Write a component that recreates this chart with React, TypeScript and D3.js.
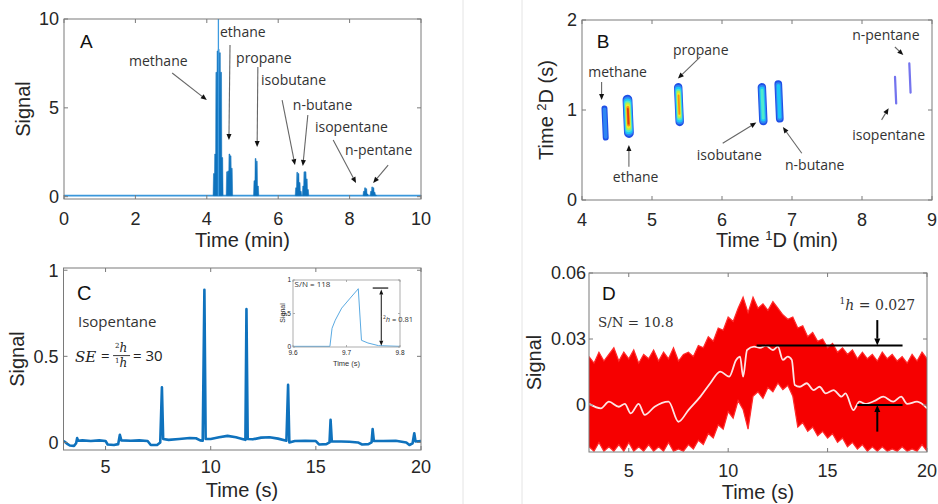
import React from 'react';
import * as d3 from 'd3';

type P = [number, number];

// ---------------- Panel A : 1D chromatogram ----------------
const aXTicks = [0, 2, 4, 6, 8, 10];
const aYTicks = [0, 5, 10];
const aBaseline = 0.06;
// modulated slices (time min, signal)
const aSpikes: P[] = [
  [4.2, 1.3], [4.233, 2.4], [4.267, 7.0], [4.3, 8.2], [4.333, 8.3], [4.367, 8.1], [4.4, 7.0], [4.433, 2.2],
  [4.567, 1.4], [4.6, 1.45], [4.633, 2.4], [4.667, 2.3], [4.7, 1.6],
  [5.333, 0.9], [5.367, 2.15], [5.4, 2.0], [5.433, 0.6],
  [6.5, 0.5], [6.533, 1.37], [6.567, 1.3], [6.6, 0.8], [6.633, 0.3],
  [6.7, 0.6], [6.733, 1.4], [6.767, 1.4], [6.8, 1.0], [6.833, 0.4],
  [8.4, 0.3], [8.433, 0.5], [8.467, 0.45], [8.5, 0.15],
  [8.6, 0.3], [8.633, 0.55], [8.667, 0.5], [8.7, 0.25], [8.733, 0.1],
];
const aTopSpike: P = [4.325, 10.5];
const aNames = ['methane', 'ethane', 'propane', 'isobutane', 'n-butane', 'isopentane', 'n-pentane'];
const aNamePos: P[] = [[1.82, 7.35], [4.37, 9.0], [4.82, 7.52], [5.52, 6.29], [6.41, 4.88], [7.03, 3.64], [7.87, 2.35]];
const aArrowFrom: P[] = [[3.03, 6.96], [4.65, 8.54], [5.43, 7.3], [6.11, 5.44], [6.83, 4.6], [7.54, 3.19], [9.08, 1.78]];
const aArrowTo: P[] = [[4.0, 5.44], [4.62, 3.19], [5.41, 2.8], [6.47, 1.78], [6.69, 1.73], [8.18, 0.77], [8.66, 0.77]];

// ---------------- Panel B : 2D contour ----------------
const bXTicks = [4, 5, 6, 7, 8, 9];
const bYTicks = [0, 1, 2];
const bT1 = [4.33, 4.66, 5.385, 6.58, 6.815, 8.48, 8.685];
const bT2Low = [0.66, 0.69, 0.82, 0.83, 0.86, 1.06, 1.18];
const bT2High = [1.05, 1.17, 1.3, 1.3, 1.33, 1.38, 1.53];
const bWidth = [0.085, 0.14, 0.12, 0.12, 0.11, 0.032, 0.032];
const bTopLevel = [1, 7, 6, 3, 2, -1, -1];
const bLevelColors = ['#7474ee', '#1f4fe6', '#2f86f2', '#1cc8f6', '#50eacc', '#b0f050', '#f4e82a', '#f89010', '#e03a10'];
const bNamePos: P[] = [[4.09, 1.37], [4.44, 0.2], [5.3, 1.61], [5.64, 0.44], [6.9, 0.33], [7.86, 0.67], [7.86, 1.78]];
const bArrowFrom: P[] = [[4.28, 1.31], [4.67, 0.37], [5.69, 1.59], [6.01, 0.63], [7.14, 0.52], [8.28, 0.89], [8.47, 1.7]];
const bArrowTo: P[] = [[4.28, 1.11], [4.67, 0.61], [5.37, 1.35], [6.49, 0.86], [6.87, 0.81], [8.38, 1.02], [8.59, 1.61]];

// ---------------- Panel C : isopentane modulated ----------------
const cXTicks = [5, 10, 15, 20];
const cYTicks = [0, 0.5, 1];
const cTrace: P[] = [
  [3.0, 0.008], [3.1, 0.0], [3.2, -0.01], [3.3, -0.018], [3.5, -0.02], [3.6, -0.005], [3.65, 0.025], [3.7, 0.01],
  [3.9, 0.012], [4.3, 0.008], [4.7, 0.012], [5.0, 0.008], [5.1, -0.012], [5.4, -0.015], [5.6, -0.01], [5.68, 0.044],
  [5.75, 0.012], [6.2, 0.01], [6.6, 0.012], [7.0, 0.008], [7.15, -0.015], [7.45, -0.015], [7.6, 0.0], [7.68, 0.32],
  [7.74, 0.02], [8.0, 0.015], [8.5, 0.02], [9.0, 0.026], [9.3, 0.024], [9.5, 0.012], [9.62, 0.01], [9.7, 0.887],
  [9.76, 0.02], [10.0, 0.02], [10.4, 0.03], [10.8, 0.038], [11.2, 0.03], [11.5, 0.02], [11.65, 0.015], [11.7, 0.774],
  [11.76, 0.02], [12.0, 0.018], [12.4, 0.028], [12.8, 0.03], [13.2, 0.022], [13.6, 0.01], [13.68, 0.334], [13.74, 0.0],
  [14.0, 0.008], [14.5, 0.01], [15.0, 0.008], [15.15, -0.012], [15.5, -0.01], [15.65, 0.0], [15.7, 0.131], [15.76, 0.005],
  [16.2, 0.005], [16.6, 0.004], [17.0, 0.0], [17.2, -0.012], [17.5, -0.01], [17.65, 0.0], [17.7, 0.077], [17.76, 0.008],
  [18.2, 0.008], [18.8, 0.01], [19.3, 0.0], [19.45, -0.015], [19.6, -0.005], [19.68, 0.053], [19.74, 0.005], [20.0, 0.008],
];
const cInsetXTicks = [9.6, 9.7, 9.8];
const cInsetYTicks = [0, 0.5, 1];
const cInsetTrace: P[] = [
  [9.6, 0.01], [9.669, 0.01], [9.673, 0.28], [9.679, 0.4], [9.691, 0.58], [9.707, 0.73], [9.72, 0.85], [9.722, 0.87],
  [9.728, 0.1], [9.74, 0.06], [9.76, 0.02], [9.8, 0.01],
];

// ---------------- Panel D : 1D isopentane ----------------
const dXTicks = [5, 10, 15, 20];
const dYTicks = [0, 0.03, 0.06];
const dUpper: P[] = [
  [3.0, 0.022], [3.25, 0.019], [3.5, 0.024], [3.75, 0.02], [4.0, 0.023], [4.25, 0.026], [4.5, 0.02], [4.75, 0.024],
  [5.0, 0.021], [5.25, 0.025], [5.5, 0.019], [5.75, 0.023], [6.0, 0.021], [6.25, 0.025], [6.5, 0.02], [6.75, 0.024],
  [7.0, 0.021], [7.25, 0.026], [7.5, 0.02], [7.75, 0.023], [8.0, 0.024], [8.25, 0.022], [8.5, 0.027], [8.75, 0.026],
  [9.0, 0.031], [9.25, 0.029], [9.5, 0.035], [9.75, 0.034], [10.0, 0.04], [10.25, 0.038], [10.5, 0.044], [10.75, 0.049],
  [11.0, 0.042], [11.25, 0.049], [11.5, 0.044], [11.75, 0.046], [12.0, 0.043], [12.25, 0.047], [12.5, 0.044], [12.75, 0.041],
  [13.0, 0.039], [13.25, 0.04], [13.5, 0.035], [13.75, 0.036], [14.0, 0.031], [14.25, 0.033], [14.5, 0.029], [14.75, 0.03],
  [15.0, 0.026], [15.25, 0.028], [15.5, 0.024], [15.75, 0.026], [16.0, 0.023], [16.25, 0.025], [16.5, 0.021], [16.75, 0.024],
  [17.0, 0.021], [17.25, 0.023], [17.5, 0.02], [17.75, 0.024], [18.0, 0.021], [18.25, 0.023], [18.5, 0.02], [18.75, 0.022],
  [19.0, 0.019], [19.25, 0.023], [19.5, 0.02], [19.75, 0.024], [20.0, 0.021],
];
const dLower: P[] = [
  [3.0, -0.019], [3.25, -0.021], [3.5, -0.017], [3.75, -0.021], [4.0, -0.019], [4.25, -0.021], [4.5, -0.018], [4.75, -0.021],
  [5.0, -0.017], [5.25, -0.021], [5.5, -0.019], [5.75, -0.021], [6.0, -0.018], [6.25, -0.021], [6.5, -0.019], [6.75, -0.021],
  [7.0, -0.017], [7.25, -0.021], [7.5, -0.02], [7.75, -0.021], [8.0, -0.018], [8.25, -0.02], [8.5, -0.016], [8.75, -0.018],
  [9.0, -0.013], [9.25, -0.015], [9.5, -0.009], [9.75, -0.011], [10.0, -0.003], [10.25, -0.006], [10.5, 0.002], [10.75, -0.002],
  [11.0, -0.011], [11.25, 0.004], [11.5, 0.006], [11.75, 0.003], [12.0, 0.008], [12.25, 0.006], [12.5, 0.01], [12.75, 0.007],
  [13.0, 0.009], [13.25, 0.004], [13.5, -0.01], [13.75, -0.008], [14.0, -0.012], [14.25, -0.01], [14.5, -0.014], [14.75, -0.012],
  [15.0, -0.015], [15.25, -0.013], [15.5, -0.017], [15.75, -0.015], [16.0, -0.019], [16.25, -0.017], [16.5, -0.02], [16.75, -0.018],
  [17.0, -0.021], [17.25, -0.019], [17.5, -0.021], [17.75, -0.019], [18.0, -0.021], [18.25, -0.02], [18.5, -0.021], [18.75, -0.019],
  [19.0, -0.021], [19.25, -0.02], [19.5, -0.021], [19.75, -0.018], [20.0, -0.021],
];
const dSmooth: P[] = [
  [3.0, 0.0005], [3.6, -0.0015], [4.0, 0.0015], [4.5, -0.0008], [4.8, 0.0005], [5.1, -0.0038], [5.5, 0.0005], [5.8, -0.0045],
  [6.3, -0.0008], [7.0, 0.0015], [7.5, -0.0076], [8.0, -0.0023], [8.6, 0.0038], [9.1, 0.0099], [9.6, 0.0152], [10.05, 0.0129],
  [10.4, 0.0205], [10.6, 0.022], [10.75, 0.0129], [10.95, 0.025], [11.3, 0.0265], [11.6, 0.026], [11.9, 0.027], [12.25, 0.025],
  [12.5, 0.0265], [12.75, 0.0205], [13.0, 0.022], [13.2, 0.0205], [13.35, 0.0091], [13.6, 0.0083], [13.95, 0.0099], [14.3, 0.0068],
  [14.6, 0.0083], [14.9, 0.0053], [15.3, 0.0068], [15.7, 0.0038], [15.9, 0.0053], [16.3, -0.0023], [16.6, 0.0015], [16.9, 0.0005],
  [17.4, 0.002], [17.8, 0.0038], [18.3, 0.0015], [18.7, 0.0038], [19.0, 0.0005], [19.5, 0.0015], [20.0, -0.0015],
];
const dHighLevel = 0.027;
const dLowLevel = 0.0;

// ---------------- scales ----------------
const xA = d3.scaleLinear().domain([0, 10]).range([64, 421]);
const yA = d3.scaleLinear().domain([-0.13, 10]).range([199, 19]);
const xB = d3.scaleLinear().domain([4, 9]).range([582, 932]);
const yB = d3.scaleLinear().domain([0, 2]).range([200, 20]);
const xC = d3.scaleLinear().domain([3, 20]).range([63.5, 421]);
const yC = d3.scaleLinear().domain([-0.044, 1.013]).range([450, 268]);
const xI = d3.scaleLinear().domain([9.6, 9.8]).range([293, 400]);
const yI = d3.scaleLinear().domain([0, 1]).range([347, 280]);
const xD = d3.scaleLinear().domain([3, 20]).range([589, 927]);
const yD = d3.scaleLinear().domain([-0.02136, 0.06]).range([452, 273]);

const SANS = "'Liberation Sans', Arial, sans-serif";
const ANN = "'Open Sans', sans-serif";
const SERIF = "'DejaVu Serif', serif";
const TXT = '#262626';
const BLUE = '#0f72bd';

type Sc = d3.ScaleLinear<number, number>;

function Frame(props: {
  x: Sc; y: Sc; xt: number[]; yt: number[]; xf: (v: number) => string; yf: (v: number) => string;
  xBase: number; fs?: number; tl?: number; gap?: number; stroke?: string; sw?: number;
}) {
  const { x, y, xt, yt, xf, yf, xBase } = props;
  const fs = props.fs ?? 18;
  const tl = props.tl ?? 4;
  const gap = props.gap ?? 5;
  const stroke = props.stroke ?? '#7a7a7a';
  const sw = props.sw ?? 1;
  const [x0, x1] = x.range();
  const [y0, y1] = y.range();
  return (
    <g>
      <rect x={x0} y={y1} width={x1 - x0} height={y0 - y1} fill="none" stroke={stroke} strokeWidth={sw} />
      {xt.map((t) => (
        <g key={'x' + t}>
          <line x1={x(t)} x2={x(t)} y1={y0} y2={y0 - tl} stroke={stroke} strokeWidth={sw} />
          <line x1={x(t)} x2={x(t)} y1={y1} y2={y1 + tl} stroke={stroke} strokeWidth={sw} />
          <text x={x(t)} y={xBase} textAnchor="middle" fontFamily={SANS} fontSize={fs} fill={TXT}>{xf(t)}</text>
        </g>
      ))}
      {yt.map((t) => (
        <g key={'y' + t}>
          <line x1={x0} x2={x0 + tl} y1={y(t)} y2={y(t)} stroke={stroke} strokeWidth={sw} />
          <line x1={x1} x2={x1 - tl} y1={y(t)} y2={y(t)} stroke={stroke} strokeWidth={sw} />
          <text x={x0 - gap} y={y(t) + fs * 0.36} textAnchor="end" fontFamily={SANS} fontSize={fs} fill={TXT}>{yf(t)}</text>
        </g>
      ))}
    </g>
  );
}

function Arrow({ x1, y1, x2, y2, color = '#666', head = '#111', w = 1.1, hl = 6, hw = 5 }: any) {
  const a = Math.atan2(y2 - y1, x2 - x1);
  const bx = x2 - hl * Math.cos(a);
  const by = y2 - hl * Math.sin(a);
  const px = (-Math.sin(a) * hw) / 2;
  const py = (Math.cos(a) * hw) / 2;
  return (
    <g>
      <line x1={x1} y1={y1} x2={bx} y2={by} stroke={color} strokeWidth={w} />
      <polygon points={`${x2},${y2} ${bx + px},${by + py} ${bx - px},${by - py}`} fill={head} />
    </g>
  );
}

function PanelA() {
  const spikeLine = d3.line<P>().x((d) => xA(d[0])).y((d) => yA(d[1]));
  const spikePath = aSpikes
    .map(([t, h]) =>
      spikeLine([[t - 0.024, aBaseline], [t - 0.012, h], [t + 0.012, h], [t + 0.024, aBaseline]]) + 'Z'
    )
    .join(' ');
  return (
    <g>
      <defs>
        <clipPath id="clipA"><rect x={64} y={19} width={357} height={180} /></clipPath>
      </defs>
      <g clipPath="url(#clipA)">
        <line x1={xA(0)} x2={xA(10)} y1={yA(aBaseline)} y2={yA(aBaseline)} stroke="#3a97db" strokeWidth={1.6} />
        <path d={spikePath} fill={BLUE} stroke={BLUE} strokeWidth={0.5} />
        <line x1={xA(aTopSpike[0])} x2={xA(aTopSpike[0])} y1={yA(aBaseline)} y2={yA(aTopSpike[1])} stroke="#3d9be0" strokeWidth={1.3} />
      </g>
      <Frame x={xA} y={yA} xt={aXTicks} yt={aYTicks} xf={(v) => String(v)} yf={(v) => String(v)} xBase={225} />
      {aNames.map((n, i) => (
        <g key={n}>
          <text x={xA(aNamePos[i][0])} y={yA(aNamePos[i][1])} fontFamily={ANN} fontSize={14} fill="#333">{n}</text>
          <Arrow x1={xA(aArrowFrom[i][0])} y1={yA(aArrowFrom[i][1])} x2={xA(aArrowTo[i][0])} y2={yA(aArrowTo[i][1])} />
        </g>
      ))}
      <text x={xA(0.45)} y={yA(8.37)} fontFamily={SANS} fontSize={19} fill="#111">A</text>
      <text transform={`translate(30,${(19 + 199) / 2}) rotate(-90)`} textAnchor="middle" fontFamily={SANS} fontSize={20} fill={TXT}>Signal</text>
      <text x={(64 + 421) / 2} y={247} textAnchor="middle" fontFamily={SANS} fontSize={20} fill={TXT}>Time (min)</text>
    </g>
  );
}

function PanelB() {
  return (
    <g>
      {bT1.map((t1, i) => {
        const cx = xB(t1);
        const w = xB(t1 + bWidth[i] / 2) - xB(t1 - bWidth[i] / 2);
        const top = yB(bT2High[i]);
        const bot = yB(bT2Low[i]);
        const cy = (top + bot) / 2;
        const h = bot - top;
        const levels = bTopLevel[i] < 0 ? [-1] : d3.range(0, bTopLevel[i] + 1);
        const n = levels.length;
        return (
          <g key={i} transform={`rotate(-2.5 ${cx} ${cy})`}>
            {levels.map((lv, k) => {
              const ix = ((w / 2) * k) / (n + 0.6);
              const iy = k * 1.9;
              const ww = w - 2 * ix;
              const hh = h - 2 * iy;
              return (
                <rect key={k} x={cx - ww / 2} y={cy - hh / 2} width={ww} height={hh} rx={ww / 2} ry={Math.min(ww / 2, 5)}
                  fill={bLevelColors[lv + 1]} />
              );
            })}
          </g>
        );
      })}
      <Frame x={xB} y={yB} xt={bXTicks} yt={bYTicks} xf={(v) => String(v)} yf={(v) => String(v)} xBase={225.5} />
      {aNames.map((n, i) => (
        <g key={n}>
          <text x={xB(bNamePos[i][0])} y={yB(bNamePos[i][1])} fontFamily={ANN} fontSize={14} fill="#333">{n}</text>
          <Arrow x1={xB(bArrowFrom[i][0])} y1={yB(bArrowFrom[i][1])} x2={xB(bArrowTo[i][0])} y2={yB(bArrowTo[i][1])} />
        </g>
      ))}
      <text x={xB(4.21)} y={yB(1.69)} fontFamily={SANS} fontSize={19} fill="#111">B</text>
      <text transform={`translate(553,${(20 + 200) / 2}) rotate(-90)`} textAnchor="middle" fontFamily={SANS} fontSize={20} fill={TXT}>
        Time <tspan fontSize={13} dy={-7}>2</tspan><tspan dy={7}>D (s)</tspan>
      </text>
      <text x={777} y={247} textAnchor="middle" fontFamily={SANS} fontSize={20} fill={TXT}>
        Time <tspan fontSize={13} dy={-7}>1</tspan><tspan dy={7}>D (min)</tspan>
      </text>
    </g>
  );
}

function PanelC() {
  const line = d3.line<P>().x((d) => xC(d[0])).y((d) => yC(d[1]));
  const iline = d3.line<P>().x((d) => xI(d[0])).y((d) => yI(d[1]));
  const fx = xC(3.55);
  const fy = yC(0.51);
  return (
    <g>
      <defs>
        <clipPath id="clipC"><rect x={63.5} y={268} width={357.5} height={182} /></clipPath>
      </defs>
      <path d={line(cTrace) || ''} fill="none" stroke={BLUE} strokeWidth={2.6} strokeLinejoin="round" clipPath="url(#clipC)" />
      <Frame x={xC} y={yC} xt={cXTicks} yt={cYTicks} xf={(v) => String(v)} yf={(v) => String(v)} xBase={473} />
      <text x={xC(3.64)} y={yC(0.826)} fontFamily={SANS} fontSize={20} fill="#111">C</text>
      <text x={xC(3.69)} y={yC(0.67)} fontFamily={ANN} fontSize={15} fill="#333">Isopentane</text>
      <g transform={`translate(${fx},${fy})`} fill="#222">
        <text x={0} y={7} fontFamily={SERIF} fontStyle="italic" fontSize={15}>SE</text>
        <text x={26} y={6} fontFamily={ANN} fontSize={15}>=</text>
        <text x={46} y={-3} textAnchor="middle" fontFamily={SERIF} fontSize={12}>
          <tspan fontSize={7} dy={-4}>2</tspan><tspan fontStyle="italic" dy={4}>h</tspan>
        </text>
        <line x1={38} x2={55} y1={1} y2={1} stroke="#222" strokeWidth={0.9} />
        <text x={46} y={12} textAnchor="middle" fontFamily={SERIF} fontSize={12}>
          <tspan fontSize={7} dy={-4}>1</tspan><tspan fontStyle="italic" dy={4}>h</tspan>
        </text>
        <text x={58} y={6} fontFamily={ANN} fontSize={15}>= 30</text>
      </g>
      {/* inset */}
      <rect x={293} y={280} width={107} height={67} fill="#fff" />
      <path d={iline(cInsetTrace) || ''} fill="none" stroke="#5aaae2" strokeWidth={1} />
      <Frame x={xI} y={yI} xt={cInsetXTicks} yt={cInsetYTicks} xf={(v) => v.toFixed(1)} yf={(v) => String(v)} xBase={355} fs={6.5} tl={2} gap={2} stroke="#999" sw={0.8} />
      <text x={xI(9.603)} y={yI(0.89)} fontFamily={ANN} fontSize={8} fill="#333">S/N = 118</text>
      <line x1={xI(9.749)} x2={xI(9.778)} y1={yI(0.88)} y2={yI(0.88)} stroke="#111" strokeWidth={1.2} />
      <Arrow x1={xI(9.765)} y1={yI(0.45)} x2={xI(9.765)} y2={yI(0.86)} color="#111" head="#111" w={1} hl={5} hw={4} />
      <Arrow x1={xI(9.765)} y1={yI(0.45)} x2={xI(9.765)} y2={yI(0.02)} color="#111" head="#111" w={1} hl={5} hw={4} />
      <text x={xI(9.768)} y={yI(0.38)} fontFamily={ANN} fontSize={7.5} fill="#333">
        <tspan fontSize={5} dy={-3}>2</tspan><tspan fontStyle="italic" dy={3}>h</tspan> = 0.81
      </text>
      <text transform={`translate(285,313) rotate(-90)`} textAnchor="middle" fontFamily={SANS} fontSize={7} fill="#333">Signal</text>
      <text x={346.5} y={366} textAnchor="middle" fontFamily={SANS} fontSize={7.5} fill="#333">Time (s)</text>
      <text transform={`translate(24,${(268 + 450) / 2}) rotate(-90)`} textAnchor="middle" fontFamily={SANS} fontSize={20} fill={TXT}>Signal</text>
      <text x={242} y={497} textAnchor="middle" fontFamily={SANS} fontSize={20} fill={TXT}>Time (s)</text>
    </g>
  );
}

function PanelD() {
  const idx = d3.range(dUpper.length);
  const band = d3.area<number>().x((i) => xD(dUpper[i][0])).y0((i) => yD(dLower[i][1])).y1((i) => yD(dUpper[i][1]));
  const smooth = d3.line<P>().x((d) => xD(d[0])).y((d) => yD(d[1])).curve(d3.curveMonotoneX);
  const up = d3.line<P>().x((d) => xD(d[0])).y((d) => yD(d[1]));
  return (
    <g>
      <defs>
        <clipPath id="clipD"><rect x={589} y={273} width={338} height={179} /></clipPath>
      </defs>
      <g clipPath="url(#clipD)">
        <path d={band(idx) || ''} fill="#f60000" />
        <path d={up(dUpper) || ''} fill="none" stroke="#ff2a2a" strokeWidth={1.2} />
        <path d={up(dLower) || ''} fill="none" stroke="#ff2a2a" strokeWidth={1.2} />
        <path d={smooth(dSmooth) || ''} fill="none" stroke="#fde4e4" strokeWidth={1.8} />
      </g>
      <Frame x={xD} y={yD} xt={dXTicks} yt={dYTicks} xf={(v) => String(v)} yf={(v) => String(v)} xBase={476.5} gap={3} />
      <line x1={xD(11.43)} x2={xD(18.77)} y1={yD(dHighLevel)} y2={yD(dHighLevel)} stroke="#000" strokeWidth={2} />
      <line x1={xD(16.5)} x2={xD(18.77)} y1={yD(dLowLevel)} y2={yD(dLowLevel)} stroke="#000" strokeWidth={2} />
      <Arrow x1={xD(17.5)} y1={yD(0.0386)} x2={xD(17.5)} y2={yD(dHighLevel)} color="#000" head="#000" w={2} hl={7} hw={6} />
      <Arrow x1={xD(17.5)} y1={yD(-0.0121)} x2={xD(17.5)} y2={yD(dLowLevel)} color="#000" head="#000" w={2} hl={7} hw={6} />
      <text x={xD(3.65)} y={yD(0.0477)} fontFamily={SANS} fontSize={19} fill="#111">D</text>
      <text x={xD(3.45)} y={yD(0.0355)} fontFamily={SERIF} fontSize={13.5} fill="#333">S/N = 10.8</text>
      <text x={xD(19.4)} y={yD(0.0432)} textAnchor="end" fontFamily={SERIF} fontSize={14} fill="#333">
        <tspan fontSize={9} dy={-6}>1</tspan><tspan fontStyle="italic" dy={6}>h</tspan> = 0.027
      </text>
      <text transform={`translate(541,${(273 + 452) / 2}) rotate(-90)`} textAnchor="middle" fontFamily={SANS} fontSize={20} fill={TXT}>Signal</text>
      <text x={758} y={499} textAnchor="middle" fontFamily={SANS} fontSize={20} fill={TXT}>Time (s)</text>
    </g>
  );
}

export default function App() {
  return (
    <svg width={938} height={504} style={{ position: 'absolute', left: 0, top: 0, background: '#fff' }}>
      <rect width={938} height={504} fill="#fff" />
      <line x1={463} x2={463} y1={0} y2={504} stroke="#e4e4e4" strokeWidth={1} />
      <line x1={522} x2={522} y1={0} y2={504} stroke="#e4e4e4" strokeWidth={1} />
      <PanelA />
      <PanelB />
      <PanelC />
      <PanelD />
    </svg>
  );
}
